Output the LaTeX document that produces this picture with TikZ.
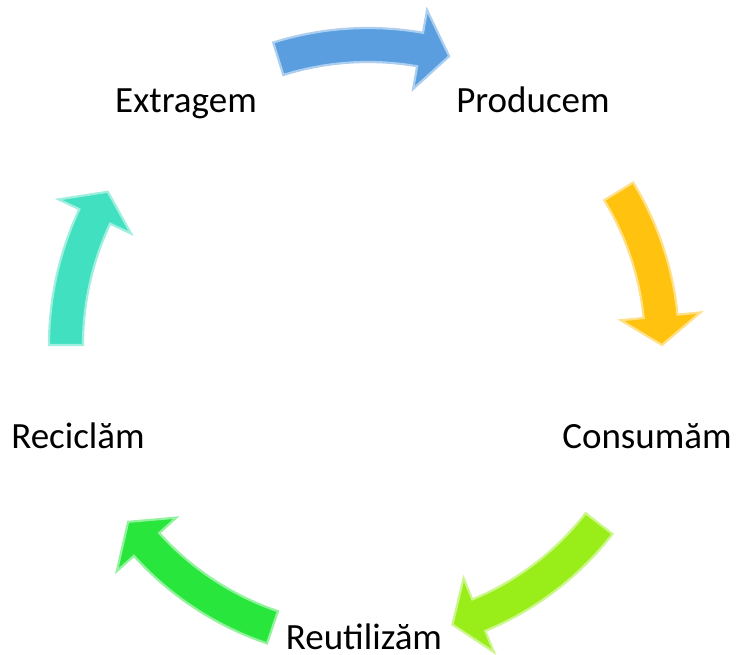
\documentclass[tikz,border=0pt]{standalone}
\usepackage{fontspec}
\setmainfont{Carlito}
\definecolor{cblue}{RGB}{90,158,224}
\definecolor{cyellow}{RGB}{255,194,14}
\definecolor{clime}{RGB}{153,238,26}
\definecolor{cgreen}{RGB}{40,230,60}
\definecolor{cteal}{RGB}{64,224,192}
\tikzset{
  lbl/.style={anchor=base,font=\fontsize{37}{44}\selectfont,text=black,inner sep=0pt},
  arrowbody/.style={fill=#1,draw=#1!50!white,line width=2.2pt,line join=miter}
}
% color, radius, tail angle, head base angle, tip angle
\newcommand{\cyclearrow}[5]{%
  \filldraw[arrowbody=#1] ({#3}:{#2+17}) arc[start angle={#3},end angle={#4},radius={#2+17}]
    -- ({#4}:{#2+40}) -- ({#5}:{#2}) -- ({#4}:{#2-40}) -- ({#4}:{#2-17})
    arc[start angle={#4},end angle={#3},radius={#2-17}] -- cycle;}
\begin{document}
\begin{tikzpicture}[x=1pt,y=-1pt]
\useasboundingbox (0,0) rectangle (736,654);
\node[lbl] (extr) at (186,112) {Extragem};
\node[lbl] (prod) at (533,112) {Producem};
\node[lbl] (cons) at (647,448) {Consumăm};
\node[lbl] (reut) at (364,649) {Reutilizăm};
\node[lbl] (reci) at (78,448) {Reciclăm};
\begin{scope}[shift={(368,345)},y=1pt]
  \cyclearrow{cblue}{300}{107.4}{80}{74.3}
  \cyclearrow{cyellow}{294}{31.5}{5.6}{0}
  \cyclearrow{clime}{292}{-37.7}{-67.7}{-73.2}
  \cyclearrow{cgreen}{298}{-108.7}{-138}{-143.6}
  \cyclearrow{cteal}{302}{180}{154.8}{149.5}
\end{scope}
\end{tikzpicture}
\end{document}
